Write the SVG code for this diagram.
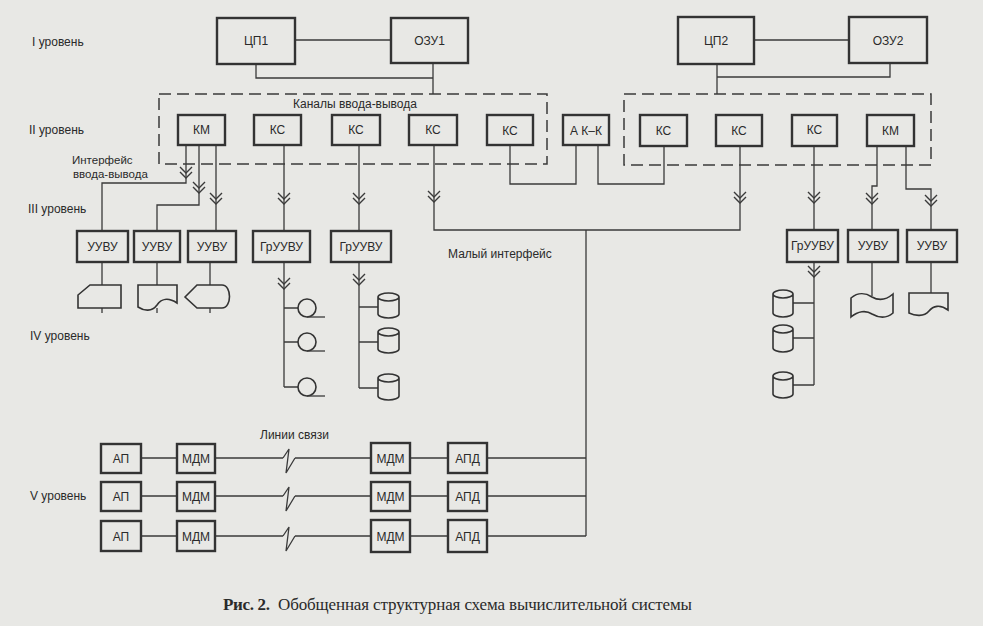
<svg xmlns="http://www.w3.org/2000/svg" xmlns:xlink="http://www.w3.org/1999/xlink" width="983" height="626" viewBox="0 0 983 626">
<style>
.bg{fill:#e8e8e5}
.box{fill:#e8e8e5;stroke:#333;stroke-width:2.4}
.ln{fill:none;stroke:#3a3a3a;stroke-width:1.3}
.sh{fill:#e8e8e5;stroke:#333;stroke-width:1.6}
.dash{fill:none;stroke:#3a3a3a;stroke-width:1.5;stroke-dasharray:12 6}
.t{font-family:"Liberation Sans","DejaVu Sans",Arial,sans-serif;font-size:12px;fill:#2a2a2a}
.s{font-size:11.5px}
.c{text-anchor:middle}
.cap{font-family:"Liberation Serif","DejaVu Serif",serif;font-size:17px;fill:#2a2a2a}
</style>
<defs>
<path id="arr" d="M-6,-11 L0,-5 L6,-11 M-6,-6 L0,0 L6,-6" fill="none" stroke="#3a3a3a" stroke-width="1.4"/>
<path id="brk" d="M0,0 L6,-9 L3,15 L12,0" fill="none" stroke="#3a3a3a" stroke-width="1.3"/>
</defs>
<rect class="bg" x="0" y="0" width="983" height="626"/>

<!-- level labels -->
<g id="levels">
<text class="t" x="32" y="46">I уровень</text>
<text class="t" x="29" y="134">II уровень</text>
<text class="t" x="28" y="213">III уровень</text>
<text class="t" x="30" y="340">IV уровень</text>
<text class="t" x="30" y="500">V уровень</text>
</g>

<!-- channel groups -->
<g id="channels-left">
<rect class="dash" x="159" y="94" width="388" height="70"/>
<text class="t" x="293" y="108">Каналы ввода-вывода</text>
</g>
<g id="channels-right">
<rect class="dash" x="624" y="94" width="307" height="71"/>
</g>

<!-- connectors -->
<g id="connectors">
<path class="ln" d="M295,40 H391 M256,64 V78 H433 M433,63 V94"/>
<path class="ln" d="M754,40 H849 M717,64 V94 M890,63 V77 H717"/>
<path class="ln" d="M186,145 V183 H102 V231 M199,145 V205 H157 V231 M216,145 V231"/>
<path class="ln" d="M284,145 V231 M359,145 V231"/>
<path class="ln" d="M434,145 V230 H740 V146 M586,230 V536"/>
<path class="ln" d="M510,145 V184 H576 V145 M598,145 V184 H664 V146"/>
<path class="ln" d="M814,146 V230 M877,146 V186 H872 V230 M906,146 V189 H931 V230"/>
<use href="#arr" x="186" y="178"/>
<use href="#arr" x="199" y="193"/>
<use href="#arr" x="216" y="204"/>
<use href="#arr" x="284" y="204"/>
<use href="#arr" x="359" y="204"/>
<use href="#arr" x="434" y="202"/>
<use href="#arr" x="740" y="203"/>
<use href="#arr" x="814" y="203"/>
<use href="#arr" x="872" y="204"/>
<use href="#arr" x="931" y="206"/>
<!-- level IV -->
<path class="ln" d="M102,262 V285 M102,308 V313 M157,262 V285 M157,308 V313 M210,262 V285 M210,308 V313"/>
<path class="ln" d="M284,262 V387 M284,308 H298 M284,342 H298 M284,387 H298"/>
<path class="ln" d="M359,262 V388 M359,307 H378 M359,342 H378 M359,388 H378"/>
<path class="ln" d="M814,262 V385 M814,303 H793 M814,338 H793 M814,385 H793"/>
<path class="ln" d="M872,262 V296 M931,262 V293"/>
<use href="#arr" x="284" y="289"/>
<use href="#arr" x="359" y="285"/>
<use href="#arr" x="814" y="277"/>
<!-- level V -->
<path class="ln" d="M141,458 H177 M215,458 H283 M295,458 H371 M410,458 H448 M487,458 H586"/>
<path class="ln" d="M141,496 H177 M215,496 H283 M295,496 H371 M410,496 H448 M487,496 H586"/>
<path class="ln" d="M141,536 H177 M215,536 H283 M295,536 H371 M410,536 H448 M487,536 H586"/>
<use href="#brk" x="283" y="458"/>
<use href="#brk" x="283" y="496"/>
<use href="#brk" x="283" y="536"/>
</g>

<g id="lbl-small-interface"><text class="t" x="448" y="258">Малый интерфейс</text></g>
<g id="lbl-io-interface"><text class="t s" x="72" y="164">Интерфейс</text><text class="t s" x="73" y="178">ввода-вывода</text></g>
<g id="lbl-lines"><text class="t" x="260" y="439">Линии связи</text></g>

<!-- Level I -->
<g id="cpu1"><rect class="box" x="217" y="18" width="78" height="46"/><text class="t c" x="256" y="45">ЦП1</text></g>
<g id="ram1"><rect class="box" x="391" y="18" width="77" height="45"/><text class="t c" x="429.5" y="45">ОЗУ1</text></g>
<g id="cpu2"><rect class="box" x="678" y="17" width="76" height="47"/><text class="t c" x="716" y="45">ЦП2</text></g>
<g id="ram2"><rect class="box" x="849" y="17" width="78" height="46"/><text class="t c" x="888" y="45">ОЗУ2</text></g>

<!-- Level II -->
<g id="km1"><rect class="box" x="178" y="115" width="47" height="30"/><text class="t c" x="201.5" y="134">КМ</text></g>
<g id="ks1"><rect class="box" x="254" y="115" width="47" height="30"/><text class="t c" x="277.5" y="134">КС</text></g>
<g id="ks2"><rect class="box" x="332" y="115" width="48" height="30"/><text class="t c" x="356" y="134">КС</text></g>
<g id="ks3"><rect class="box" x="409" y="115" width="48" height="30"/><text class="t c" x="433" y="134">КС</text></g>
<g id="ks4"><rect class="box" x="487" y="115" width="46" height="30"/><text class="t c" x="510" y="135">КС</text></g>
<g id="akk"><rect class="box" x="563" y="115" width="46" height="30"/><text class="t c" x="586" y="135">А К–К</text></g>
<g id="ks5"><rect class="box" x="640" y="115" width="47" height="31"/><text class="t c" x="663.5" y="135">КС</text></g>
<g id="ks6"><rect class="box" x="716" y="115" width="46" height="31"/><text class="t c" x="739" y="135">КС</text></g>
<g id="ks7"><rect class="box" x="792" y="115" width="45" height="31"/><text class="t c" x="814.5" y="134">КС</text></g>
<g id="km2"><rect class="box" x="867" y="115" width="47" height="31"/><text class="t c" x="890.5" y="135">КМ</text></g>

<!-- Level III -->
<g id="uuvu1"><rect class="box" x="77" y="231" width="51" height="31"/><text class="t c" x="102.5" y="251">УУВУ</text></g>
<g id="uuvu2"><rect class="box" x="134" y="231" width="46" height="31"/><text class="t c" x="157" y="251">УУВУ</text></g>
<g id="uuvu3"><rect class="box" x="188" y="231" width="48" height="31"/><text class="t c" x="212" y="251">УУВУ</text></g>
<g id="gruuvu1"><rect class="box" x="253" y="231" width="57" height="31"/><text class="t c" x="281.5" y="251">ГрУУВУ</text></g>
<g id="gruuvu2"><rect class="box" x="331" y="231" width="60" height="31"/><text class="t c" x="361" y="251">ГрУУВУ</text></g>
<g id="gruuvu3"><rect class="box" x="787" y="230" width="51" height="32"/><text class="t c" x="812.5" y="250">ГрУУВУ</text></g>
<g id="uuvu4"><rect class="box" x="848" y="230" width="50" height="32"/><text class="t c" x="873" y="250">УУВУ</text></g>
<g id="uuvu5"><rect class="box" x="907" y="230" width="50" height="32"/><text class="t c" x="932" y="250">УУВУ</text></g>

<!-- Level IV devices -->
<g id="card"><path class="sh" d="M90,285 H121 V308 H78 V295 Z"/></g>
<g id="doc1"><path class="sh" d="M138,285 H177 V303 C168,297 161,299 157,305 C152,312 144,311 138,307 Z"/></g>
<g id="display"><path class="sh" d="M185,297 L197,285 H222 C232,285 232,308 222,308 H197 Z"/></g>
<g id="tape1"><circle class="sh" cx="307" cy="308" r="9"/><path class="ln" d="M307,317 H325"/></g>
<g id="tape2"><circle class="sh" cx="307" cy="342" r="9"/><path class="ln" d="M307,351 H325"/></g>
<g id="tape3"><circle class="sh" cx="307" cy="387" r="9"/><path class="ln" d="M307,396 H325"/></g>
<g id="disk1"><path class="sh" d="M378,297 a10.5,4 0 0 1 21,0 V314 a10.5,4 0 0 1 -21,0 Z M378,297 a10.5,4 0 0 0 21,0"/></g>
<g id="disk2"><path class="sh" d="M378,332 a10.5,4 0 0 1 21,0 V349 a10.5,4 0 0 1 -21,0 Z M378,332 a10.5,4 0 0 0 21,0"/></g>
<g id="disk3"><path class="sh" d="M378,378 a10.5,4 0 0 1 21,0 V396 a10.5,4 0 0 1 -21,0 Z M378,378 a10.5,4 0 0 0 21,0"/></g>
<g id="disk4"><path class="sh" d="M773,294 a10,4 0 0 1 20,0 V313 a10,4 0 0 1 -20,0 Z M773,294 a10,4 0 0 0 20,0"/></g>
<g id="disk5"><path class="sh" d="M773,329 a10,4 0 0 1 20,0 V348 a10,4 0 0 1 -20,0 Z M773,329 a10,4 0 0 0 20,0"/></g>
<g id="disk6"><path class="sh" d="M773,376 a10,4 0 0 1 20,0 V394 a10,4 0 0 1 -20,0 Z M773,376 a10,4 0 0 0 20,0"/></g>
<g id="ptape"><path class="sh" d="M851,298 C858,292 866,293 872,297 C879,301 886,300 893,294 V313 C886,319 879,318 872,314 C866,310 858,311 851,317 Z"/></g>
<g id="doc2"><path class="sh" d="M909,293 H948 V310 C940,304 933,306 929,311 C924,317 915,316 909,313 Z"/></g>

<!-- Level V -->
<g id="ap1"><rect class="box" x="101" y="444" width="40" height="29"/><text class="t c" x="121" y="463">АП</text></g>
<g id="ap2"><rect class="box" x="101" y="482" width="40" height="29"/><text class="t c" x="121" y="501">АП</text></g>
<g id="ap3"><rect class="box" x="101" y="521" width="40" height="30"/><text class="t c" x="121" y="541">АП</text></g>
<g id="mdm1"><rect class="box" x="177" y="444" width="38" height="29"/><text class="t c" x="196" y="463">МДМ</text></g>
<g id="mdm2"><rect class="box" x="177" y="482" width="38" height="29"/><text class="t c" x="196" y="501">МДМ</text></g>
<g id="mdm3"><rect class="box" x="177" y="521" width="38" height="30"/><text class="t c" x="196" y="541">МДМ</text></g>
<g id="mdm4"><rect class="box" x="371" y="443" width="39" height="30"/><text class="t c" x="390.5" y="463">МДМ</text></g>
<g id="mdm5"><rect class="box" x="371" y="482" width="39" height="29"/><text class="t c" x="390.5" y="501">МДМ</text></g>
<g id="mdm6"><rect class="box" x="371" y="520" width="39" height="32"/><text class="t c" x="390.5" y="541">МДМ</text></g>
<g id="apd1"><rect class="box" x="448" y="443" width="39" height="30"/><text class="t c" x="467.5" y="463">АПД</text></g>
<g id="apd2"><rect class="box" x="448" y="482" width="39" height="29"/><text class="t c" x="467.5" y="501">АПД</text></g>
<g id="apd3"><rect class="box" x="448" y="520" width="39" height="32"/><text class="t c" x="467.5" y="541">АПД</text></g>

<g id="caption">
<text class="cap" x="223" y="610"><tspan font-weight="bold" textLength="47">Рис. 2.</tspan><tspan x="278" textLength="414">Обобщенная структурная схема вычислительной системы</tspan></text>
</g>
</svg>
